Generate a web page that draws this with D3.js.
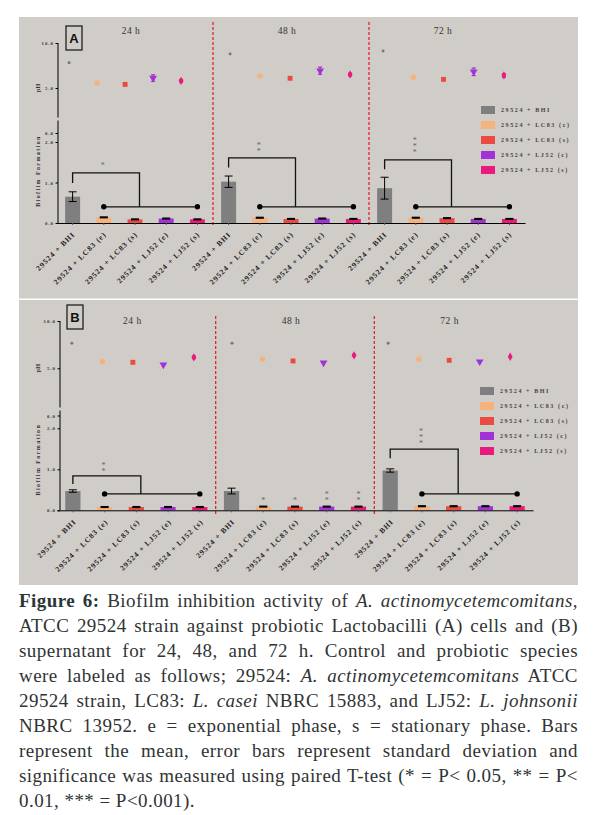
<!DOCTYPE html>
<html><head><meta charset="utf-8">
<script src="https://cdn.jsdelivr.net/npm/d3@7"></script>
<style>
body{margin:0;background:#fff;}
#wrap{position:relative;width:601px;height:815px;overflow:hidden;}
svg{position:absolute;left:0;top:0;}
#cap{position:absolute;left:19px;top:588px;width:559px;font-family:"Liberation Serif","DejaVu Serif",serif;font-size:19px;line-height:25px;color:#303434;letter-spacing:0.45px;}
#cap .ln{text-align:justify;text-align-last:justify;}
#cap .ln.last{text-align:left;text-align-last:left;}
.stars{writing-mode:vertical-rl;text-orientation:upright;}
</style>
</head><body><div id="wrap"></div>
<script>
// ---------- DATA ----------
const categories = ["29524 + BHI","29524 + LC83 (e)","29524 + LC83 (s)","29524 + LJ52 (e)","29524 + LJ52 (s)"];
const legendLabels = ["29524 + BHI","29524 + LC83 (c)","29524 + LC83 (s)","29524 + LJ52 (c)","29524 + LJ52 (s)"];
const timeLabels = ["24 h","48 h","72 h"];
const seriesColors = ["#7f7f7f","#f5b27d","#ea4a40","#a231d8","#ea1a7c"];
const phTicks = [0,5,10];
const bioTicks = [0,1,2];

// Panel A (cells): biofilm formation (OD) and pH, per time [24h,48h,72h] x category
const bioMeanA = [[0.65,0.14,0.09,0.11,0.09],[1.02,0.13,0.10,0.11,0.10],[0.86,0.13,0.12,0.10,0.10]];
const bioSdA   = [[0.12,0.01,0.01,0.01,0.01],[0.14,0.01,0.01,0.01,0.01],[0.27,0.01,0.01,0.01,0.01]];
const phMeanA  = [[7.8,5.56,5.4,6.1,5.8],[8.78,6.33,6.08,6.92,6.5],[9.1,6.19,5.96,6.8,6.4]];
const phSdA    = [[0,0.05,0.05,0.37,0.15],[0,0.05,0.05,0.4,0.15],[0,0.05,0.05,0.42,0.2]];
// Panel B (supernatant)
const bioMeanB = [[0.47,0.08,0.08,0.08,0.08],[0.47,0.09,0.09,0.09,0.09],[0.97,0.1,0.1,0.1,0.1]];
const bioSdB   = [[0.03,0.01,0.01,0.01,0.01],[0.07,0.01,0.01,0.01,0.01],[0.04,0.01,0.01,0.01,0.01]];
const phMeanB  = [[7.64,5.7,5.63,5.38,6.16],[7.64,5.95,5.77,5.59,6.37],[7.64,5.95,5.84,5.7,6.22]];
const phSdB    = [[0,0.05,0.05,0.05,0.15],[0,0.05,0.05,0.05,0.1],[0,0.05,0.05,0.05,0.08]];
// significance annotations (levels in biofilm units)
const sigA = [
  {type:"bracket", stars:1, legLow:0.99, top:1.24, bar:0.4, starBase:1.45},
  {type:"bracket", stars:2, legLow:1.37, top:1.61, bar:0.4, starBase:1.80},
  {type:"bracket", stars:3, legLow:1.33, top:1.56, bar:0.4, starBase:1.78}
];
const sigB = [
  {type:"bracket", stars:2, legLow:0.64, top:0.84, bar:0.4, starBase:0.98},
  {type:"each", stars:[0,1,1,2,2], starBase:0.27},
  {type:"bracket", stars:3, legLow:1.27, top:1.49, bar:0.4, starBase:1.66}
];

const captionLines = [
 [["Figure 6:","b"],[" Biofilm inhibition activity of ",""],["A. actinomycetemcomitans","i"],[",",""]],
 [["ATCC 29524 strain against probiotic Lactobacilli (A) cells and (B)",""]],
 [["supernatant for 24, 48, and 72 h. Control and probiotic species",""]],
 [["were labeled as follows; 29524: ",""],["A. actinomycetemcomitans","i"],[" ATCC",""]],
 [["29524 strain, LC83: ",""],["L. casei","i"],[" NBRC 15883, and LJ52: ",""],["L. johnsonii","i"]],
 [["NBRC 13952. e = exponential phase, s = stationary phase. Bars",""]],
 [["represent the mean, error bars represent standard deviation and",""]],
 [["significance was measured using paired T-test (* = P< 0.05, ** = P<",""]],
 [["0.01, *** = P<0.001).",""]]
];

// ---------- LAYOUT ----------
const W=601,H=815;
const serif='"Liberation Serif","DejaVu Serif",serif';
const panels = [
 {letter:"A", bgTop:17,bgBottom:298.5, axisX:58, xRange:[57,525], phRange:[133,43], bioRange:[223,142], breakY:119,
  dashY:[22,227], box:[66,26], titleY:34, legendX:481, legendY:106, phStep:[28,30,30.2], phOff:[-3.5,1.5,-1.5], lblShift:[1,10],
  bio:bioMeanA, bioSd:bioSdA, ph:phMeanA, phSd:phSdA, sig:sigA},
 {letter:"B", bgTop:300,bgBottom:585, axisX:60, xRange:[57,533], phRange:[415.5,321], bioRange:[510.3,428.3], breakY:409,
  dashY:[316,514], box:[67,305], titleY:324, legendX:480, legendY:387, phStep:[30.5,30.5,30.5], phOff:[-1,0.5,-2], lblShift:[2,10],
  bio:bioMeanB, bioSd:bioSdB, ph:phMeanB, phSd:phSdB, sig:sigB}
];
const symbolTypes=[d3.symbolCircle,d3.symbolCircle,d3.symbolSquare,d3.symbolTriangle,d3.symbolDiamond];
const symbolSizes=[7,24,24,26,20];
const symbolRot=[0,0,0,180,0];

const svg=d3.select("#wrap").append("svg").attr("width",W).attr("height",H);

const keys=[];
timeLabels.forEach((t,ti)=>categories.forEach((c,ci)=>keys.push(ti+"|"+ci)));

panels.forEach(P=>{
  const g=svg.append("g");
  g.append("rect").attr("x",19).attr("y",P.bgTop).attr("width",559).attr("height",P.bgBottom-P.bgTop).attr("fill","#d0ccc8");

  const x=d3.scaleBand().domain(keys).range(P.xRange).paddingInner(0.52).paddingOuter(0.26);
  const bw=x.bandwidth();
  const cx=k=>x(k)+bw/2;
  const yPh=d3.scaleLinear().domain([0,10]).range(P.phRange);
  const yBio=d3.scaleLinear().domain([0,2]).range(P.bioRange);
  const y0=yBio(0);

  // dashed separators
  [1,2].forEach(ti=>{
    const xm=(cx((ti-1)+"|4")+cx(ti+"|0"))/2;
    g.append("line").attr("x1",xm).attr("x2",xm).attr("y1",P.dashY[0]).attr("y2",P.dashY[1])
      .attr("stroke","#e3262b").attr("stroke-width",1.3).attr("stroke-dasharray","3,2");
  });

  // time labels
  timeLabels.forEach((t,ti)=>{
    g.append("text").attr("x",cx(ti+"|2")-4).attr("y",P.titleY).attr("text-anchor","middle")
      .attr("font-family",serif).attr("font-size",9.5).attr("letter-spacing",0.5).attr("fill","#333").text(t);
  });

  // Y axes
  const axPh=g.append("g").attr("transform",`translate(${P.axisX},0)`)
    .call(d3.axisLeft(yPh).tickValues(phTicks).tickFormat(d3.format(".1f")).tickSize(2.5));
  axPh.select(".domain").remove();
  const axBio=g.append("g").attr("transform",`translate(${P.axisX},0)`)
    .call(d3.axisLeft(yBio).tickValues(bioTicks).tickFormat(d3.format(".1f")).tickSize(2.5));
  axBio.select(".domain").remove();
  [axPh,axBio].forEach(a=>{
    a.selectAll("text").attr("font-family",serif).attr("font-size",4.8).attr("font-weight","bold")
      .attr("letter-spacing",1).attr("fill","#333").attr("x",-4);
    a.selectAll("line").attr("stroke","#000");
  });
  g.append("line").attr("x1",P.axisX).attr("x2",P.axisX).attr("y1",yPh(10)).attr("y2",P.breakY-1.5).attr("stroke","#000").attr("stroke-width",1);
  g.append("line").attr("x1",P.axisX).attr("x2",P.axisX).attr("y1",P.breakY+1.5).attr("y2",y0).attr("stroke","#000").attr("stroke-width",1);

  // axis titles
  g.append("text").attr("transform",`translate(40,${yPh(5)}) rotate(-90)`).attr("text-anchor","middle")
    .attr("font-family",serif).attr("font-size",6.5).attr("font-weight","bold").attr("fill","#333").text("pH");
  g.append("text").attr("transform",`translate(40,${(P.breakY+y0)/2}) rotate(-90)`).attr("text-anchor","middle")
    .attr("font-family",serif).attr("font-size",6).attr("font-weight","bold").attr("letter-spacing",1.4).attr("fill","#333").text("Biofilm Formation");

  // bars
  const flat=keys.map(k=>{const [ti,ci]=k.split("|").map(Number);return {k,ti,ci,m:P.bio[ti][ci],sd:P.bioSd[ti][ci],ph:P.ph[ti][ci],phsd:P.phSd[ti][ci]};});
  g.selectAll(".bar").data(flat).enter().append("rect")
    .attr("x",d=>x(d.k)).attr("width",bw).attr("y",d=>yBio(d.m)).attr("height",d=>y0-yBio(d.m))
    .attr("fill",d=>seriesColors[d.ci]);
  // error bars
  flat.forEach(d=>{
    const xc=cx(d.k), hi=yBio(d.m+d.sd), lo=yBio(d.m-d.sd), cw=4;
    const sw=d.ci===0?1:1.3;
    g.append("line").attr("x1",xc).attr("x2",xc).attr("y1",hi).attr("y2",lo).attr("stroke","#000").attr("stroke-width",sw);
    g.append("line").attr("x1",xc-cw).attr("x2",xc+cw).attr("y1",hi).attr("y2",hi).attr("stroke","#000").attr("stroke-width",sw);
    g.append("line").attr("x1",xc-cw).attr("x2",xc+cw).attr("y1",lo).attr("y2",lo).attr("stroke","#000").attr("stroke-width",sw);
  });

  // x axis
  const axX=g.append("g").attr("transform",`translate(0,${y0})`)
    .call(d3.axisBottom(x).tickSize(2).tickSizeOuter(0).tickFormat(k=>categories[+k.split("|")[1]]));
  axX.select(".domain").attr("stroke","#000").attr("stroke-width",1);
  axX.selectAll(".tick line").attr("stroke","#555");
  axX.selectAll(".tick text").attr("x",0).attr("y",0).attr("dy","0.35em")
    .attr("transform",`translate(${P.lblShift[0]},${P.lblShift[1]}) rotate(-45)`)
    .attr("text-anchor","end").attr("font-family",serif).attr("font-size",7.5).attr("font-weight","bold")
    .attr("letter-spacing",1).attr("fill","#222");

  // pH markers
  flat.forEach(d=>{
    const xp=cx(d.ti+"|0")+P.phOff[d.ti]+d.ci*P.phStep[d.ti];
    const col=d.ci===0?"#777":seriesColors[d.ci];
    if(d.phsd>=0.1){
      const hi=yPh(d.ph+d.phsd), lo=yPh(d.ph-d.phsd);
      g.append("line").attr("x1",xp).attr("x2",xp).attr("y1",hi).attr("y2",lo).attr("stroke",col).attr("stroke-width",1.2);
      [hi,lo].forEach(yy=>g.append("line").attr("x1",xp-2).attr("x2",xp+2).attr("y1",yy).attr("y2",yy).attr("stroke",col).attr("stroke-width",1.2));
    }
    g.append("path").attr("d",d3.symbol().type(symbolTypes[d.ci]).size(symbolSizes[d.ci])())
      .attr("transform",`translate(${xp},${yPh(d.ph)}) rotate(${symbolRot[d.ci]})`).attr("fill",col);
  });

  // significance: asterisks stacked vertically, one text element per stack
  const starStack=(xs,base,n)=>{
    g.append("text").attr("class","stars").attr("x",xs).attr("y",yBio(base)+3).attr("text-anchor","end")
      .attr("font-family",serif).attr("font-size",8).attr("letter-spacing",-3).attr("fill","#666")
      .text("*".repeat(n));
  };
  P.sig.forEach((s,ti)=>{
    if(s.type==="bracket"){
      const xl=cx(ti+"|0"), xe=cx(ti+"|1"), xs=cx(ti+"|4");
      const xr=(xl+xs)/2+4.5;
      g.append("path").attr("d",`M${xl},${yBio(s.legLow)}V${yBio(s.top)}H${xr}V${yBio(s.bar)}`)
        .attr("fill","none").attr("stroke","#111").attr("stroke-width",1.3);
      g.append("line").attr("x1",xe).attr("x2",xs).attr("y1",yBio(s.bar)).attr("y2",yBio(s.bar)).attr("stroke","#111").attr("stroke-width",1.3);
      [xe,xs].forEach(xx=>g.append("circle").attr("cx",xx).attr("cy",yBio(s.bar)).attr("r",2.7).attr("fill","#000"));
      starStack(xe-1,s.starBase,s.stars);
    } else {
      s.stars.forEach((n,ci)=>{ if(n>0) starStack(cx(ti+"|"+ci),s.starBase,n); });
    }
  });

  // legend
  legendLabels.forEach((l,i)=>{
    const yy=P.legendY+i*15;
    g.append("rect").attr("x",P.legendX).attr("y",yy).attr("width",14).attr("height",8).attr("fill",seriesColors[i]);
    g.append("text").attr("x",P.legendX+20).attr("y",yy+4).attr("dy","0.35em")
      .attr("font-family",serif).attr("font-size",6).attr("font-weight","bold").attr("letter-spacing",1.6).attr("fill","#444").text(l);
  });

  // panel letter
  g.append("rect").attr("x",P.box[0]).attr("y",P.box[1]).attr("width",16).attr("height",24).attr("fill","none").attr("stroke","#111").attr("stroke-width",1.2);
  g.append("text").attr("x",P.box[0]+8).attr("y",P.box[1]+17).attr("text-anchor","middle")
    .attr("font-family","'Liberation Sans',Arial,sans-serif").attr("font-weight","bold").attr("font-size",13).attr("fill","#111").text(P.letter);
});

// caption
const cap=d3.select("#wrap").append("div").attr("id","cap");
captionLines.forEach((line,i)=>{
  const div=cap.append("div").attr("class","ln"+(i===captionLines.length-1?" last":""));
  line.forEach(([t,st])=>{
    const sp=div.append("span").text(t);
    if(st==="b") sp.style("font-weight","bold").style("color","#2a3636");
    if(st==="i") sp.style("font-style","italic");
  });
});
</script></body></html>
